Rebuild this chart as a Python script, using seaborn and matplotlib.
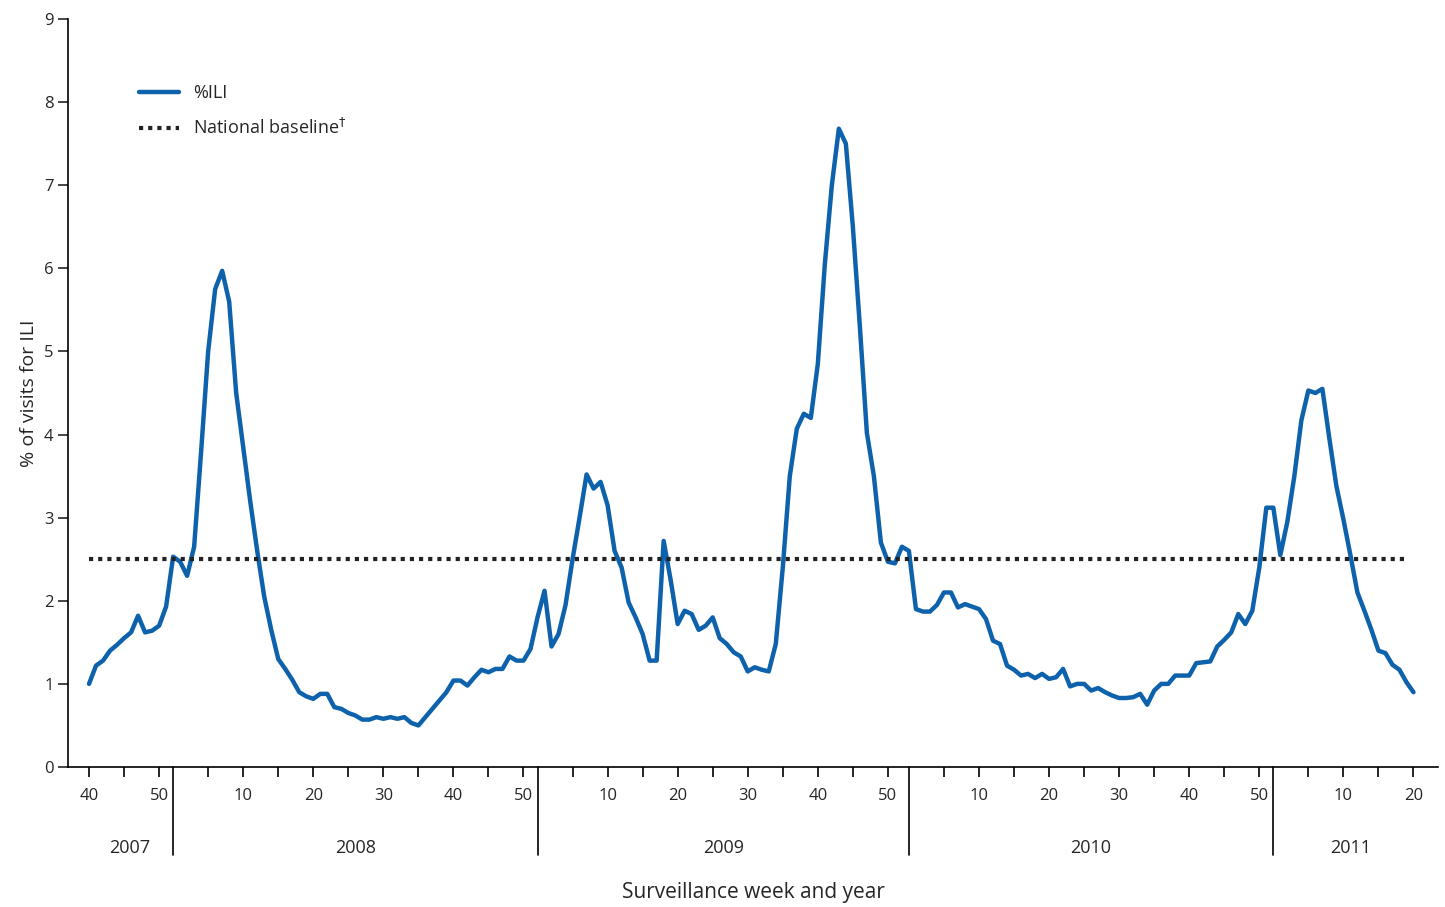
import matplotlib
matplotlib.use("Agg")
import matplotlib.pyplot as plt
import seaborn as sns
import pandas as pd
import numpy as np

ili_2007 = [1.0,1.22,1.28,1.4,1.47,1.55,1.62,1.82,1.62,1.64,1.7,1.93,2.53]
ili_2008 = [2.47,2.3,2.65,3.8,5.0,5.75,5.97,5.6,4.5,3.85,3.2,2.6,2.05,1.65,1.3,1.18,1.05,0.9,0.85,0.82,
            0.88,0.88,0.72,0.7,0.65,0.62,0.57,0.57,0.6,0.58,0.6,0.58,0.6,0.53,0.5,0.6,0.7,0.8,0.9,1.04,
            1.04,0.98,1.08,1.17,1.14,1.18,1.18,1.33,1.28,1.28,1.42,1.8]
ili_2009 = [2.12,1.45,1.6,1.95,2.5,3.0,3.52,3.35,3.43,3.15,2.6,2.4,1.98,1.8,1.6,1.28,1.28,2.72,2.25,1.72,
            1.88,1.84,1.65,1.7,1.8,1.55,1.48,1.38,1.33,1.15,1.2,1.17,1.15,1.48,2.4,3.5,4.07,4.25,4.2,4.85,
            6.05,7.0,7.68,7.5,6.5,5.3,4.02,3.5,2.7,2.47,2.45,2.65,2.6]
ili_2010 = [1.9,1.87,1.87,1.95,2.1,2.1,1.92,1.96,1.93,1.9,1.78,1.52,1.48,1.22,1.17,1.1,1.12,1.07,1.12,1.06,
            1.08,1.18,0.97,1.0,1.0,0.92,0.95,0.9,0.86,0.83,0.83,0.84,0.88,0.75,0.92,1.0,1.0,1.1,1.1,1.1,
            1.25,1.26,1.27,1.45,1.53,1.62,1.84,1.72,1.88,2.4,3.12,3.12]
ili_2011 = [2.55,2.95,3.5,4.17,4.53,4.5,4.55,3.95,3.38,2.98,2.55,2.1,1.88,1.65,1.4,1.37,1.23,1.17,1.02,0.9]
years = [2007, 2008, 2009, 2010, 2011]
first_week = {2007: 40, 2008: 1, 2009: 1, 2010: 1, 2011: 1}
baseline = 2.5

rows = []
for yr, vals in zip(years, [ili_2007, ili_2008, ili_2009, ili_2010, ili_2011]):
    for k, v in enumerate(vals):
        rows.append((yr, first_week[yr] + k, v))
df = pd.DataFrame(rows, columns=["year", "week", "ili"])
df["idx"] = np.arange(len(df))

sns.set_style("white")
plt.rcParams['font.family'] = ['Open Sans', 'DejaVu Sans']
fig = plt.figure(figsize=(14.45, 9.07), dpi=100)
ax = fig.add_axes([68/1445, 1-767/907, (1438-68)/1445, (767-19)/907])
sns.lineplot(data=df, x="idx", y="ili", ax=ax, color="#0d62ab", lw=3.2, label="%ILI")
ax.plot([0, len(df)-1.7], [baseline, baseline], ls=(0, (1, 1.2)), color="#222222", lw=3,
        label="National baseline$^{\\dagger}$")
ax.set_xlim(-3, len(df) + 2.5)
ax.set_ylim(0, 9)
ax.set_yticks(range(10))
for s in ["top", "right"]:
    ax.spines[s].set_visible(False)
for s in ["left", "bottom"]:
    ax.spines[s].set_color("black")
    ax.spines[s].set_linewidth(1.2)

maj = df[df.week % 10 == 0]
mnr = df[df.week % 5 == 0]
ax.set_xticks(mnr.idx.values, minor=True)
ax.set_xticks(maj.idx.values)
ax.set_xticklabels(maj.week.values)
ax.tick_params(axis="x", which="both", direction="out", length=7, width=1.2, color="black", bottom=True)
ax.tick_params(axis="y", direction="out", length=7, width=1.2, left=True, labelsize=12)
ax.tick_params(axis="x", labelsize=12, pad=8)
ax.set_xlabel("")
ax.set_ylabel("% of visits for ILI", fontsize=14)

trans = ax.get_xaxis_transform()
bounds = [-0.5]
for yr in years[:-1]:
    b = df[df.year == yr].idx.max()
    bounds.append(b)
    ax.plot([b, b], [0, -0.118], transform=trans, color="black", lw=1.2, clip_on=False)
bounds.append(len(df) + 1)
for i, yr in enumerate(years):
    ax.text((bounds[i] + bounds[i+1]) / 2, -0.108, str(yr), transform=trans, ha="center",
            va="center", fontsize=13)
ax.text(0.5, -0.168, "Surveillance week and year", transform=ax.transAxes, ha="center",
        va="center", fontsize=15)
leg = ax.legend(loc="upper left", bbox_to_anchor=(0.04, 0.935), frameon=False, fontsize=13,
                handlelength=2.2, labelspacing=0.9)
fig.savefig("out.png", dpi=100)
